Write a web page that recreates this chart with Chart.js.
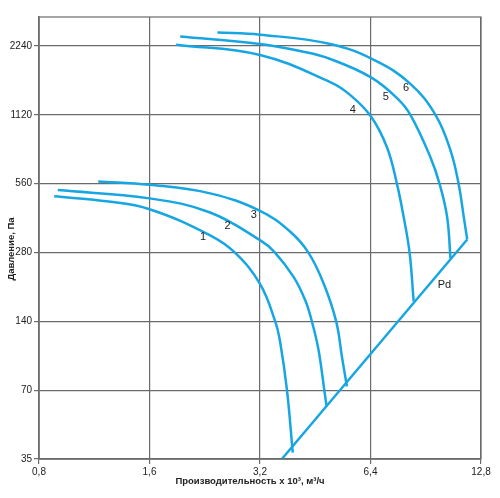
<!DOCTYPE html>
<html>
<head>
<meta charset="utf-8">
<script src="https://cdn.jsdelivr.net/npm/chart.js@4/dist/chart.umd.min.js"></script>
<style>
html, body { margin: 0; padding: 0; background: #fff; }
#contenedor { width: 500px; height: 498px; }
</style>
</head>
<body>
<div id="contenedor"><canvas id="grafico"></canvas></div>
<script>
// Marcas de los ejes
const ticksX = [0.8, 1.6, 3.2, 6.4, 12.8];
const ticksY = [35, 70, 140, 280, 560, 1120, 2240];

// Curvas del ventilador (caudal x10^3 m3/h, presion Pa)
const curva1 = [[0.88, 493], [1.22, 469], [1.6, 433], [2.34, 333], [2.74, 279], [3.2, 204], [3.52, 140], [3.63, 114], [3.79, 70], [3.93, 37.3]];
const curva2 = [[0.90, 525], [1.6, 483], [2.34, 419], [3.2, 317], [3.5, 282], [3.95, 219], [4.25, 173], [4.43, 140], [4.62, 105], [4.79, 70], [4.86, 59.4]];
const curva3 = [[1.16, 573], [1.6, 554], [2.34, 508], [3.2, 426], [3.87, 345], [4.34, 279], [4.77, 205], [5.16, 140], [5.35, 98], [5.52, 72.6]];
const curva4 = [[1.89, 2270], [3.2, 2047], [4.97, 1557], [5.64, 1366], [6.42, 1101], [7.10, 806], [7.56, 556], [7.88, 400], [8.18, 279], [8.39, 171]];
const curva5 = [[1.94, 2467], [3.2, 2286], [4.2, 2115], [4.97, 1966], [6.42, 1634], [7.56, 1326], [8.22, 1120], [9.32, 731], [9.88, 556], [10.35, 400], [10.57, 264]];
const curva6 = [[2.45, 2568], [3.2, 2510], [4.97, 2286], [6.6, 1933], [8.22, 1529], [9.62, 1120], [10.57, 783], [11.13, 556], [11.49, 400], [11.74, 319]];
// Presion dinamica
const presionDinamica = [[3.67, 35], [11.74, 319]];

// Etiquetas de las curvas (texto, caudal, presion)
const etiquetas = [["1", 2.24, 328], ["2", 2.61, 365], ["3", 3.08, 410], ["4", 5.73, 1181], ["5", 7.05, 1346], ["6", 8.0, 1463], ["Pd", 10.18, 202]];

const azul = '#17a6e2';
const gris = '#6b6b6b';

function serie(puntos) {
    return {
        data: puntos.map(p => ({ x: p[0], y: p[1] })),
        borderColor: azul,
        borderWidth: 2.5,
        pointRadius: 0,
        fill: false,
        tension: 0.4
    };
}

// Plugin: marco, etiquetas y titulos de ejes
const extras = {
    id: 'extras',
    afterDraw(chart) {
        const ctx = chart.ctx;
        const a = chart.chartArea;
        const sx = chart.scales.x;
        const sy = chart.scales.y;
        ctx.save();
        ctx.strokeStyle = gris;
        ctx.lineWidth = 1.2;
        ctx.strokeRect(a.left, a.top, a.right - a.left, a.bottom - a.top);

        ctx.fillStyle = '#222';
        ctx.font = "11px 'Liberation Sans', Arial, sans-serif";
        ctx.textAlign = 'center';
        ctx.textBaseline = 'middle';
        etiquetas.forEach(e => {
            ctx.fillText(e[0], sx.getPixelForValue(e[1]), sy.getPixelForValue(e[2]));
        });

        ctx.font = "bold 9.5px 'Liberation Sans', Arial, sans-serif";
        ctx.fillText('Производительность x 10³, м³/ч', 250, 481);
        ctx.translate(11, 249);
        ctx.rotate(-Math.PI / 2);
        ctx.fillText('Давление, Па', 0, 0);
        ctx.restore();
    }
};

const migrafico = document.getElementById('grafico');
const config = {
    type: 'line',
    data: {
        datasets: [serie(curva1), serie(curva2), serie(curva3), serie(curva4), serie(curva5), serie(curva6), serie(presionDinamica)]
    },
    options: {
        responsive: true,
        maintainAspectRatio: false,
        animation: false,
        devicePixelRatio: 1,
        layout: { padding: { top: 17, right: 19, left: 0, bottom: 0 } },
        plugins: {
            legend: { display: false },
            tooltip: { enabled: false }
        },
        scales: {
            x: {
                type: 'logarithmic',
                min: 0.8,
                max: 12.8,
                afterBuildTicks: s => { s.ticks = ticksX.map(v => ({ value: v })); },
                afterFit: s => { s.height = 39; },
                ticks: {
                    autoSkip: false,
                    maxRotation: 0,
                    padding: 2,
                    color: '#222',
                    font: { family: "'Liberation Sans', Arial, sans-serif", size: 10 },
                    callback: v => String(v).replace('.', ',')
                },
                grid: { color: gris, lineWidth: 1.2, tickLength: 5 },
                border: { color: gris, width: 1.5 }
            },
            y: {
                type: 'logarithmic',
                min: 35,
                max: 3000,
                afterBuildTicks: s => { s.ticks = ticksY.map(v => ({ value: v })); },
                afterFit: s => { s.width = 39; },
                ticks: {
                    autoSkip: false,
                    padding: 2,
                    color: '#222',
                    font: { family: "'Liberation Sans', Arial, sans-serif", size: 10 },
                    callback: v => String(v)
                },
                grid: { color: gris, lineWidth: 1.2, tickLength: 5 },
                border: { color: gris, width: 1.5 }
            }
        }
    },
    plugins: [extras]
};
const graficoActual = new Chart(migrafico, config);
</script>
</body>
</html>
